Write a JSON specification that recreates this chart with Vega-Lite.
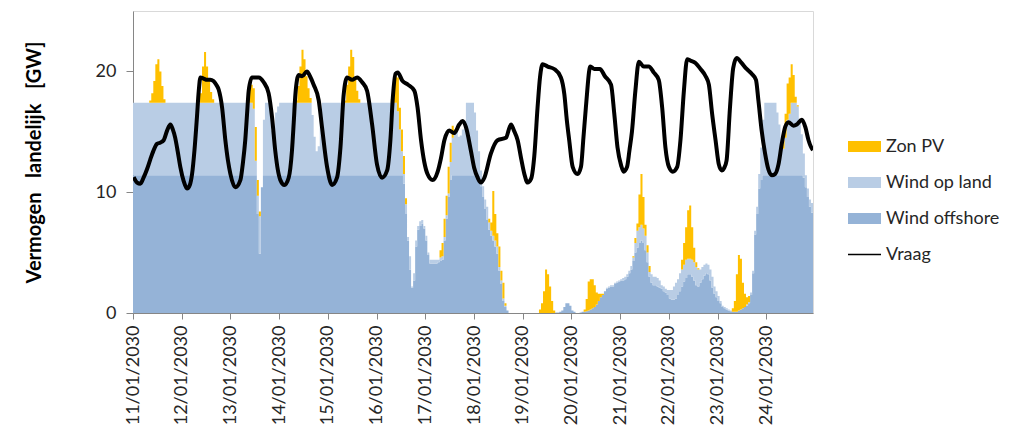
{
"$schema": "https://vega.github.io/schema/vega-lite/v6.json",
"width": 680,
"height": 302,
"autosize": {"type": "none"},
"padding": {"left": 133, "top": 11, "right": 196, "bottom": 113},
"background": "white",
"config": {
  "font": "Lato",
  "view": {"stroke": "#D9D9D9", "strokeWidth": 1},
  "axis": {"grid": false, "domainColor": "#868686", "tickColor": "#868686", "labelColor": "#262626", "labelFontSize": 18, "labelFont": "Lato", "titleFont": "Lato", "titleColor": "#000000"}
},
"datasets": {
"gen": [
{"h":0,"o":11.4,"l":6,"p":0},{"h":1,"o":11.4,"l":6,"p":0},{"h":2,"o":11.4,"l":6,"p":0},{"h":3,"o":11.4,"l":6,"p":0},{"h":4,"o":11.4,"l":6,"p":0},{"h":5,"o":11.4,"l":6,"p":0},{"h":6,"o":11.4,"l":6,"p":0},{"h":7,"o":11.4,"l":6,"p":0},
{"h":8,"o":11.4,"l":6,"p":0.2},{"h":9,"o":11.4,"l":6,"p":0.8},{"h":10,"o":11.4,"l":6,"p":1.8},{"h":11,"o":11.4,"l":6,"p":3.2},{"h":12,"o":11.4,"l":6,"p":3.6},{"h":13,"o":11.4,"l":6,"p":2.6},{"h":14,"o":11.4,"l":6,"p":1.4},{"h":15,"o":11.4,"l":6,"p":0.3},
{"h":16,"o":11.4,"l":6,"p":0},{"h":17,"o":11.4,"l":6,"p":0},{"h":18,"o":11.4,"l":6,"p":0},{"h":19,"o":11.4,"l":6,"p":0},{"h":20,"o":11.4,"l":6,"p":0},{"h":21,"o":11.4,"l":6,"p":0},{"h":22,"o":11.4,"l":6,"p":0},{"h":23,"o":11.4,"l":6,"p":0},
{"h":24,"o":11.4,"l":6,"p":0},{"h":25,"o":11.4,"l":6,"p":0},{"h":26,"o":11.4,"l":6,"p":0},{"h":27,"o":11.4,"l":6,"p":0},{"h":28,"o":11.4,"l":6,"p":0},{"h":29,"o":11.4,"l":6,"p":0},{"h":30,"o":11.4,"l":6,"p":0},{"h":31,"o":11.4,"l":6,"p":0},
{"h":32,"o":11.4,"l":6,"p":0},{"h":33,"o":11.4,"l":6,"p":0.8},{"h":34,"o":11.4,"l":6,"p":3},{"h":35,"o":11.4,"l":6,"p":4.2},{"h":36,"o":11.4,"l":6,"p":3},{"h":37,"o":11.4,"l":6,"p":1.8},{"h":38,"o":11.4,"l":6,"p":0.9},{"h":39,"o":11.4,"l":6,"p":0.3},
{"h":40,"o":11.4,"l":6,"p":0},{"h":41,"o":11.4,"l":6,"p":0},{"h":42,"o":11.4,"l":6,"p":0},{"h":43,"o":11.4,"l":6,"p":0},{"h":44,"o":11.4,"l":6,"p":0},{"h":45,"o":11.4,"l":6,"p":0},{"h":46,"o":11.4,"l":6,"p":0},{"h":47,"o":11.4,"l":6,"p":0},
{"h":48,"o":11.4,"l":6,"p":0},{"h":49,"o":11.4,"l":6,"p":0},{"h":50,"o":11.4,"l":6,"p":0},{"h":51,"o":11.4,"l":6,"p":0},{"h":52,"o":11.4,"l":6,"p":0},{"h":53,"o":11.4,"l":6,"p":0},{"h":54,"o":11.4,"l":6,"p":0},{"h":55,"o":11.4,"l":6,"p":0},
{"h":56,"o":11.4,"l":6,"p":0.4},{"h":57,"o":11.4,"l":6,"p":1.2},{"h":58,"o":11.4,"l":6,"p":1.5},{"h":59,"o":11.4,"l":5.5,"p":1.7},{"h":60,"o":11.4,"l":1.2,"p":2.8},{"h":61,"o":8.2,"l":1.5,"p":1.3},{"h":62,"o":4.9,"l":3.1,"p":0.4},{"h":63,"o":10.4,"l":0,"p":0},
{"h":64,"o":11.4,"l":4.6,"p":0},{"h":65,"o":11.4,"l":6,"p":0},{"h":66,"o":11.4,"l":6,"p":0},{"h":67,"o":11.4,"l":5.5,"p":0},{"h":68,"o":11.4,"l":3.7,"p":0},{"h":69,"o":11.4,"l":3.7,"p":0},{"h":70,"o":11.4,"l":5.2,"p":0},{"h":71,"o":11.4,"l":5.7,"p":0},
{"h":72,"o":11.4,"l":6,"p":0},{"h":73,"o":11.4,"l":6,"p":0},{"h":74,"o":11.4,"l":6,"p":0},{"h":75,"o":11.4,"l":6,"p":0},{"h":76,"o":11.4,"l":6,"p":0},{"h":77,"o":11.4,"l":6,"p":0},{"h":78,"o":11.4,"l":6,"p":0},{"h":79,"o":11.4,"l":6,"p":0},
{"h":80,"o":11.4,"l":6,"p":0.2},{"h":81,"o":11.4,"l":6,"p":1.4},{"h":82,"o":11.4,"l":6,"p":3},{"h":83,"o":11.4,"l":6,"p":4.4},{"h":84,"o":11.4,"l":6,"p":3.6},{"h":85,"o":11.4,"l":6,"p":2.2},{"h":86,"o":11.4,"l":6,"p":1.2},{"h":87,"o":11.4,"l":6,"p":0.4},
{"h":88,"o":11.4,"l":5,"p":0},{"h":89,"o":11.4,"l":3.2,"p":0},{"h":90,"o":11.4,"l":2,"p":0},{"h":91,"o":11.4,"l":2.4,"p":0},{"h":92,"o":11.4,"l":5.5,"p":0},{"h":93,"o":11.4,"l":6,"p":0},{"h":94,"o":11.4,"l":6,"p":0},{"h":95,"o":11.4,"l":6,"p":0},
{"h":96,"o":11.4,"l":6,"p":0},{"h":97,"o":11.4,"l":6,"p":0},{"h":98,"o":11.4,"l":6,"p":0},{"h":99,"o":11.4,"l":6,"p":0},{"h":100,"o":11.4,"l":6,"p":0},{"h":101,"o":11.4,"l":6,"p":0},{"h":102,"o":11.4,"l":6,"p":0},{"h":103,"o":11.4,"l":6,"p":0},
{"h":104,"o":11.4,"l":6,"p":0.2},{"h":105,"o":11.4,"l":6,"p":1.5},{"h":106,"o":11.4,"l":6,"p":3},{"h":107,"o":11.4,"l":6,"p":4.4},{"h":108,"o":11.4,"l":6,"p":3.8},{"h":109,"o":11.4,"l":6,"p":2},{"h":110,"o":11.4,"l":6,"p":1},{"h":111,"o":11.4,"l":6,"p":0.3},
{"h":112,"o":11.4,"l":6,"p":0},{"h":113,"o":11.4,"l":6,"p":0},{"h":114,"o":11.4,"l":6,"p":0},{"h":115,"o":11.4,"l":6,"p":0},{"h":116,"o":11.4,"l":6,"p":0},{"h":117,"o":11.4,"l":6,"p":0},{"h":118,"o":11.4,"l":6,"p":0},{"h":119,"o":11.4,"l":6,"p":0},
{"h":120,"o":11.4,"l":6,"p":0},{"h":121,"o":11.4,"l":6,"p":0},{"h":122,"o":11.4,"l":6,"p":0},{"h":123,"o":11.4,"l":6,"p":0},{"h":124,"o":11.4,"l":6,"p":0},{"h":125,"o":11.4,"l":6,"p":0},{"h":126,"o":11.4,"l":6,"p":0},{"h":127,"o":11.4,"l":6,"p":0.3},
{"h":128,"o":11.4,"l":6,"p":1.2},{"h":129,"o":11.4,"l":6,"p":2.4},{"h":130,"o":11.4,"l":5.3,"p":2.8},{"h":131,"o":11.4,"l":3.8,"p":1.8},{"h":132,"o":11.4,"l":2,"p":1.8},{"h":133,"o":10.7,"l":0.8,"p":1.5},{"h":134,"o":8.2,"l":0.8,"p":0.5},{"h":135,"o":6,"l":0.3,"p":0},
{"h":136,"o":3.6,"l":1.1,"p":0},{"h":137,"o":2.1,"l":0.1,"p":0},{"h":138,"o":2.7,"l":0.6,"p":0},{"h":139,"o":5.5,"l":0.5,"p":0},{"h":140,"o":6.9,"l":0.3,"p":0},{"h":141,"o":7.2,"l":0.4,"p":0},{"h":142,"o":7.4,"l":0.3,"p":0},{"h":143,"o":7,"l":0.2,"p":0},
{"h":144,"o":6,"l":0.4,"p":0},{"h":145,"o":4.8,"l":0.2,"p":0},{"h":146,"o":4.1,"l":0.3,"p":0},{"h":147,"o":4.1,"l":0.3,"p":0},{"h":148,"o":4.1,"l":0.3,"p":0},{"h":149,"o":4.1,"l":0.3,"p":0},{"h":150,"o":4.2,"l":0.2,"p":0},{"h":151,"o":4.3,"l":0.3,"p":0.6},
{"h":152,"o":4.4,"l":0.3,"p":1.1},{"h":153,"o":6,"l":0.3,"p":1.5},{"h":154,"o":7.8,"l":0.3,"p":1.6},{"h":155,"o":9.6,"l":0.3,"p":2.2},{"h":156,"o":11,"l":1.5,"p":1.6},{"h":157,"o":11.4,"l":3.1,"p":1},{"h":158,"o":11.4,"l":3.5,"p":0.3},{"h":159,"o":11.4,"l":3.6,"p":0},
{"h":160,"o":11.4,"l":3.2,"p":0},{"h":161,"o":11.4,"l":3.3,"p":0},{"h":162,"o":11.4,"l":3.8,"p":0},{"h":163,"o":11.4,"l":4.5,"p":0},{"h":164,"o":11.4,"l":6,"p":0},{"h":165,"o":11.4,"l":6,"p":0},{"h":166,"o":11.4,"l":6,"p":0},{"h":167,"o":11.4,"l":6,"p":0},
{"h":168,"o":11.4,"l":5.2,"p":0},{"h":169,"o":11.4,"l":3.7,"p":0},{"h":170,"o":11.4,"l":2,"p":0},{"h":171,"o":10.5,"l":1.3,"p":0},{"h":172,"o":9.6,"l":0.9,"p":0},{"h":173,"o":8.6,"l":0.8,"p":0},{"h":174,"o":7.7,"l":1.1,"p":0},{"h":175,"o":6.9,"l":0.6,"p":0.3},
{"h":176,"o":6.4,"l":0.4,"p":0.7},{"h":177,"o":6,"l":0.4,"p":3.7},{"h":178,"o":5.5,"l":0.5,"p":2.2},{"h":179,"o":4.9,"l":0.6,"p":1.1},{"h":180,"o":3.5,"l":0.3,"p":1.7},{"h":181,"o":2.4,"l":0.3,"p":0.8},{"h":182,"o":1,"l":0.2,"p":1.3},{"h":183,"o":0.5,"l":0.1,"p":0.2},
{"h":184,"o":0.2,"l":0,"p":0},{"h":185,"o":0,"l":0,"p":0},{"h":186,"o":0,"l":0,"p":0},{"h":187,"o":0,"l":0,"p":0},{"h":188,"o":0,"l":0,"p":0},{"h":189,"o":0,"l":0,"p":0},{"h":190,"o":0,"l":0,"p":0},{"h":191,"o":0,"l":0,"p":0},
{"h":192,"o":0,"l":0,"p":0},{"h":193,"o":0,"l":0,"p":0},{"h":194,"o":0,"l":0,"p":0},{"h":195,"o":0,"l":0,"p":0},{"h":196,"o":0,"l":0,"p":0},{"h":197,"o":0,"l":0,"p":0},{"h":198,"o":0,"l":0,"p":0},{"h":199,"o":0,"l":0,"p":0},
{"h":200,"o":0,"l":0,"p":0.3},{"h":201,"o":0,"l":0,"p":0.8},{"h":202,"o":0,"l":0,"p":1.8},{"h":203,"o":0,"l":0,"p":3.6},{"h":204,"o":0,"l":0,"p":3.2},{"h":205,"o":0,"l":0,"p":2.2},{"h":206,"o":0,"l":0,"p":1},{"h":207,"o":0,"l":0,"p":0.2},
{"h":208,"o":0.05,"l":0,"p":0},{"h":209,"o":0.05,"l":0,"p":0},{"h":210,"o":0.1,"l":0,"p":0},{"h":211,"o":0.2,"l":0,"p":0},{"h":212,"o":0.5,"l":0,"p":0},{"h":213,"o":0.8,"l":0,"p":0},{"h":214,"o":0.8,"l":0,"p":0},{"h":215,"o":0.6,"l":0,"p":0},
{"h":216,"o":0.2,"l":0,"p":0},{"h":217,"o":0.1,"l":0,"p":0},{"h":218,"o":0,"l":0,"p":0},{"h":219,"o":0,"l":0,"p":0},{"h":220,"o":0.05,"l":0,"p":0},{"h":221,"o":0.1,"l":0,"p":0},{"h":222,"o":0.1,"l":0,"p":0.2},{"h":223,"o":0.15,"l":0,"p":1},
{"h":224,"o":0.2,"l":0,"p":2.4},{"h":225,"o":0.3,"l":0,"p":2.5},{"h":226,"o":0.4,"l":0,"p":2.4},{"h":227,"o":0.5,"l":0,"p":1.8},{"h":228,"o":0.7,"l":0,"p":1},{"h":229,"o":1,"l":0,"p":0.6},{"h":230,"o":1.3,"l":0,"p":0.3},{"h":231,"o":1.5,"l":0,"p":0.1},
{"h":232,"o":1.8,"l":0,"p":0},{"h":233,"o":2,"l":0.1,"p":0},{"h":234,"o":2.1,"l":0.1,"p":0},{"h":235,"o":2.2,"l":0.1,"p":0},{"h":236,"o":2.2,"l":0.1,"p":0},{"h":237,"o":2.4,"l":0.1,"p":0},{"h":238,"o":2.5,"l":0.1,"p":0},{"h":239,"o":2.6,"l":0.1,"p":0},
{"h":240,"o":2.7,"l":0.1,"p":0},{"h":241,"o":2.7,"l":0.2,"p":0},{"h":242,"o":2.8,"l":0.2,"p":0},{"h":243,"o":3,"l":0.2,"p":0},{"h":244,"o":3.3,"l":0.2,"p":0},{"h":245,"o":3.6,"l":0.3,"p":0},{"h":246,"o":4.3,"l":0.3,"p":0.1},{"h":247,"o":5,"l":0.8,"p":0.4},
{"h":248,"o":5.4,"l":1.4,"p":0.6},{"h":249,"o":5.8,"l":1.3,"p":2.7},{"h":250,"o":6,"l":1.3,"p":4.2},{"h":251,"o":5.8,"l":1.2,"p":2.6},{"h":252,"o":5.2,"l":1.2,"p":0.9},{"h":253,"o":4.2,"l":0.8,"p":0.6},{"h":254,"o":3,"l":0.4,"p":0.5},{"h":255,"o":2.5,"l":0.7,"p":0},
{"h":256,"o":2.3,"l":0.7,"p":0},{"h":257,"o":2.3,"l":0.7,"p":0},{"h":258,"o":2.2,"l":0.7,"p":0},{"h":259,"o":2.1,"l":0.6,"p":0},{"h":260,"o":2,"l":0.3,"p":0},{"h":261,"o":1.8,"l":0.4,"p":0},{"h":262,"o":1.7,"l":0.3,"p":0},{"h":263,"o":1.5,"l":0.4,"p":0},
{"h":264,"o":1.2,"l":0.7,"p":0},{"h":265,"o":1.1,"l":0.8,"p":0},{"h":266,"o":1.1,"l":1.1,"p":0},{"h":267,"o":1.2,"l":1.3,"p":0},{"h":268,"o":1.5,"l":1.3,"p":0},{"h":269,"o":1.8,"l":1.5,"p":0},{"h":270,"o":2.2,"l":1.4,"p":0.8},{"h":271,"o":2.6,"l":1.4,"p":1.8},
{"h":272,"o":2.9,"l":1.5,"p":2.7},{"h":273,"o":3.2,"l":1.3,"p":4},{"h":274,"o":3.2,"l":1.3,"p":4.4},{"h":275,"o":3,"l":1.4,"p":2.7},{"h":276,"o":2.7,"l":1.5,"p":1.2},{"h":277,"o":2.3,"l":1.5,"p":0.4},{"h":278,"o":2.2,"l":1.4,"p":0.1},{"h":279,"o":2.5,"l":1.1,"p":0},
{"h":280,"o":2.8,"l":1,"p":0},{"h":281,"o":3.1,"l":0.9,"p":0},{"h":282,"o":3.3,"l":0.8,"p":0},{"h":283,"o":3.2,"l":0.8,"p":0},{"h":284,"o":2.7,"l":0.9,"p":0},{"h":285,"o":2.1,"l":0.9,"p":0},{"h":286,"o":1.6,"l":0.6,"p":0},{"h":287,"o":1.3,"l":0.5,"p":0},
{"h":288,"o":1,"l":0.4,"p":0},{"h":289,"o":0.8,"l":0.2,"p":0},{"h":290,"o":0.5,"l":0.1,"p":0},{"h":291,"o":0.4,"l":0.1,"p":0},{"h":292,"o":0.3,"l":0.1,"p":0},{"h":293,"o":0.2,"l":0.1,"p":0},{"h":294,"o":0.15,"l":0.05,"p":0},{"h":295,"o":0.1,"l":0,"p":0.3},
{"h":296,"o":0.1,"l":0,"p":0.9},{"h":297,"o":0.1,"l":0,"p":3.1},{"h":298,"o":0.2,"l":0,"p":4.6},{"h":299,"o":0.3,"l":0,"p":4.2},{"h":300,"o":0.4,"l":0,"p":2.1},{"h":301,"o":0.5,"l":0,"p":1.1},{"h":302,"o":0.6,"l":0.1,"p":0.6},{"h":303,"o":0.8,"l":0.1,"p":0.5},
{"h":304,"o":1.5,"l":0.2,"p":0},{"h":305,"o":3.3,"l":0.2,"p":0},{"h":306,"o":6.5,"l":0.3,"p":0},{"h":307,"o":8.2,"l":0.6,"p":0},{"h":308,"o":10.3,"l":1.2,"p":0},{"h":309,"o":11,"l":2.7,"p":0},{"h":310,"o":11.4,"l":4.6,"p":0},{"h":311,"o":11.4,"l":6,"p":0},
{"h":312,"o":11.4,"l":6,"p":0},{"h":313,"o":11.4,"l":6,"p":0},{"h":314,"o":11.4,"l":6,"p":0},{"h":315,"o":11.4,"l":6,"p":0},{"h":316,"o":11.4,"l":6,"p":0},{"h":317,"o":11.4,"l":5.2,"p":0},{"h":318,"o":11.4,"l":4.2,"p":0},{"h":319,"o":11.4,"l":2.3,"p":0.2},
{"h":320,"o":11.4,"l":2.2,"p":0.7},{"h":321,"o":11.4,"l":3.1,"p":2},{"h":322,"o":11.4,"l":4.6,"p":3},{"h":323,"o":11.4,"l":5.1,"p":3},{"h":324,"o":11.4,"l":6,"p":3.2},{"h":325,"o":11.4,"l":6,"p":2.3},{"h":326,"o":11.4,"l":6,"p":0.5},{"h":327,"o":11.4,"l":5.7,"p":0.1},
{"h":328,"o":11.4,"l":4.6,"p":0},{"h":329,"o":11.4,"l":3.4,"p":0},{"h":330,"o":11.2,"l":2,"p":0},{"h":331,"o":10.4,"l":1,"p":0},{"h":332,"o":9.6,"l":0.7,"p":0},{"h":333,"o":8.8,"l":0.6,"p":0},{"h":334,"o":8.3,"l":0.8,"p":0},{"h":335,"o":8,"l":0.5,"p":0}
],
"vraag": [
{"h":0.3,"v":11.25},{"h":2,"v":10.8},{"h":3.6,"v":10.7},{"h":5.2,"v":11.2},{"h":6.9,"v":11.9},{"h":8.5,"v":12.7},{"h":10,"v":13.4},{"h":11.8,"v":14},{"h":13.4,"v":14.1},{"h":15.1,"v":14.3},{"h":16.8,"v":15.1},{"h":18.4,"v":15.6},{"h":19.6,"v":15.2},{"h":20.8,"v":14.5},{"h":22,"v":13.4},{"h":23.3,"v":12.1},{"h":25,"v":10.9},{"h":26.6,"v":10.3},{"h":28,"v":10.6},{"h":29.1,"v":11.5},{"h":30.3,"v":13.5},{"h":31.5,"v":16.2},{"h":32.4,"v":18.4},{"h":33.2,"v":19.5},{"h":34.8,"v":19.4},{"h":36.5,"v":19.3},{"h":38,"v":19.3},{"h":39.7,"v":19.2},{"h":41,"v":18.9},{"h":42.2,"v":18.5},{"h":43.9,"v":17},{"h":45.5,"v":14.3},{"h":46.8,"v":12.6},{"h":48,"v":11.5},{"h":50.4,"v":10.4},{"h":52.9,"v":11},{"h":54.2,"v":12.5},{"h":55.3,"v":14.3},{"h":56.2,"v":16.5},{"h":57,"v":18.4},{"h":58.6,"v":19.5},{"h":60.2,"v":19.5},{"h":61.9,"v":19.5},{"h":64.4,"v":19.1},{"h":66.8,"v":18.2},{"h":68.5,"v":16.2},{"h":70.1,"v":13.4},{"h":71.3,"v":11.9},{"h":72.6,"v":11},{"h":74.6,"v":10.6},{"h":76.7,"v":11.2},{"h":78.3,"v":13.4},{"h":79.2,"v":15.8},{"h":80,"v":18.1},{"h":81.6,"v":19.7},{"h":83.3,"v":19.6},{"h":85.7,"v":20},{"h":87.2,"v":19.6},{"h":89,"v":18.9},{"h":91.5,"v":17.6},{"h":93.1,"v":15.4},{"h":95.6,"v":12.1},{"h":98.1,"v":10.6},{"h":100.5,"v":11.2},{"h":102.2,"v":13.7},{"h":103.8,"v":18.1},{"h":105.5,"v":19.5},{"h":107.9,"v":19.3},{"h":110.4,"v":19.5},{"h":112.9,"v":19.1},{"h":115.3,"v":18.4},{"h":117.8,"v":15.6},{"h":120.2,"v":12.3},{"h":122.7,"v":11.2},{"h":125.2,"v":11.8},{"h":126.8,"v":14.3},{"h":128,"v":17.8},{"h":129.3,"v":19.8},{"h":130.4,"v":19.9},{"h":132.8,"v":19.2},{"h":135.5,"v":18.9},{"h":138.6,"v":18.4},{"h":140.2,"v":17},{"h":141.9,"v":14.3},{"h":143.5,"v":12.5},{"h":145.1,"v":11.5},{"h":147.6,"v":11},{"h":150.1,"v":11.7},{"h":151.7,"v":12.8},{"h":153.4,"v":14.3},{"h":155.8,"v":15.1},{"h":158.3,"v":14.9},{"h":160.7,"v":15.6},{"h":162.4,"v":15.9},{"h":164,"v":15.4},{"h":166.5,"v":13.4},{"h":168.1,"v":12},{"h":169.8,"v":11.2},{"h":171.4,"v":10.8},{"h":173.1,"v":11.2},{"h":176.3,"v":13.2},{"h":179.6,"v":14.3},{"h":183.7,"v":14.5},{"h":186.2,"v":15.6},{"h":187.7,"v":15.1},{"h":189.5,"v":14.3},{"h":191.2,"v":12.8},{"h":192.8,"v":11.5},{"h":194.4,"v":10.8},{"h":196.1,"v":11.1},{"h":197.7,"v":13},{"h":199.3,"v":17},{"h":200.5,"v":19.5},{"h":201.8,"v":20.6},{"h":204.3,"v":20.4},{"h":207.5,"v":20.2},{"h":210.8,"v":19.5},{"h":212.5,"v":18.1},{"h":213.7,"v":16},{"h":214.9,"v":14.3},{"h":216.6,"v":12.1},{"h":219,"v":11.5},{"h":220.7,"v":12.1},{"h":221.9,"v":14.5},{"h":223.1,"v":17},{"h":225.3,"v":20.4},{"h":227.3,"v":20.2},{"h":230,"v":20.2},{"h":232.5,"v":19.6},{"h":235.5,"v":18.9},{"h":237.1,"v":16.5},{"h":238.7,"v":13.7},{"h":240.5,"v":12.2},{"h":241.7,"v":11.7},{"h":243.4,"v":12.1},{"h":244.6,"v":13.5},{"h":245.8,"v":15},{"h":247.5,"v":18.4},{"h":249.2,"v":20.8},{"h":251.6,"v":20.4},{"h":254.1,"v":20.4},{"h":256.6,"v":19.9},{"h":259,"v":19.3},{"h":260.7,"v":17},{"h":262.3,"v":13.7},{"h":264,"v":12.1},{"h":265.9,"v":11.7},{"h":268.1,"v":12.1},{"h":269.7,"v":14.3},{"h":271.4,"v":18.4},{"h":273,"v":21},{"h":274.6,"v":20.9},{"h":277.1,"v":20.7},{"h":279.6,"v":20.2},{"h":282.1,"v":19.6},{"h":283.7,"v":18.9},{"h":285.3,"v":16.5},{"h":287,"v":14.3},{"h":288.6,"v":12.3},{"h":290,"v":11.8},{"h":291.2,"v":12},{"h":292.4,"v":12.6},{"h":294.1,"v":17},{"h":295.7,"v":20.3},{"h":297.4,"v":21.1},{"h":299.8,"v":20.7},{"h":302.3,"v":20.2},{"h":304.8,"v":19.8},{"h":306.9,"v":19.3},{"h":308.1,"v":17.6},{"h":309.7,"v":15.1},{"h":311.4,"v":13.2},{"h":313,"v":11.9},{"h":314.7,"v":11.4},{"h":316.3,"v":11.5},{"h":318,"v":12.3},{"h":319.6,"v":14},{"h":321.3,"v":15.4},{"h":322.9,"v":15.8},{"h":325.4,"v":15.5},{"h":327,"v":15.6},{"h":329.5,"v":16},{"h":331.2,"v":15.4},{"h":332.8,"v":14.3},{"h":334.5,"v":13.6},{"h":335,"v":13.5}
]
},
"layer": [
{
  "data": {"name": "gen"},
  "transform": [
    {"fold": ["o", "l", "p"], "as": ["k", "gw"]},
    {"calculate": "datum.k === 'o' ? 'Wind offshore' : datum.k === 'l' ? 'Wind op land' : 'Zon PV'", "as": "serie"},
    {"calculate": "datum.k === 'o' ? 0 : datum.k === 'l' ? 1 : 2", "as": "ord"}
  ],
  "mark": {"type": "area", "interpolate": "step-after", "clip": true},
  "encoding": {
    "x": {"field": "h", "type": "quantitative",
      "scale": {"domain": [0, 335], "nice": false, "zero": false},
      "axis": {"values": [0,24,48,72,96,120,144,168,192,216,240,264,288,312], "labelExpr": "(11 + datum.value/24) + '/01/2030'", "labelAngle": 270, "labelAlign": "right", "labelBaseline": "middle", "tickSize": 6, "labelPadding": 6, "title": null, "labelFlush": false, "labelOverlap": false}},
    "y": {"field": "gw", "type": "quantitative", "stack": "zero",
      "scale": {"domain": [0, 25], "nice": false},
      "axis": {"values": [0, 10, 20], "tickSize": 7, "labelPadding": 10, "title": "Vermogen\u00a0\u00a0 landelijk\u00a0\u00a0 [GW]", "titleFontSize": 20, "titleFontWeight": "bold", "titlePadding": 51}},
    "color": {"field": "serie", "type": "nominal",
      "scale": {"domain": ["Zon PV", "Wind op land", "Wind offshore", "Vraag"], "range": ["#FFC000", "#B9CDE5", "#95B3D7", "#000000"]},
      "legend": {"orient": "none", "legendX": 715, "legendY": 119, "title": null, "padding": 0, "symbolType": "M-1,-0.33H1V0.33H-1Z", "symbolSize": 1089, "symbolStrokeWidth": 0, "labelFontSize": 18, "labelFont": "Lato", "labelColor": "#262626", "labelOffset": 5, "rowPadding": 10,
        "encode": {"symbols": {"update": {"shape": {"signal": "datum.value === 'Vraag' ? 'M-1,-0.05H1V0.05H-1Z' : 'M-1,-0.33H1V0.33H-1Z'"}}}}}},
    "order": {"field": "ord", "type": "quantitative"}
  }
},
{
  "data": {"name": "vraag"},
  "mark": {"type": "line", "interpolate": "monotone", "strokeWidth": 4, "clip": true},
  "encoding": {
    "x": {"field": "h", "type": "quantitative"},
    "y": {"field": "v", "type": "quantitative"},
    "color": {"datum": "Vraag"}
  }
}
]
}
